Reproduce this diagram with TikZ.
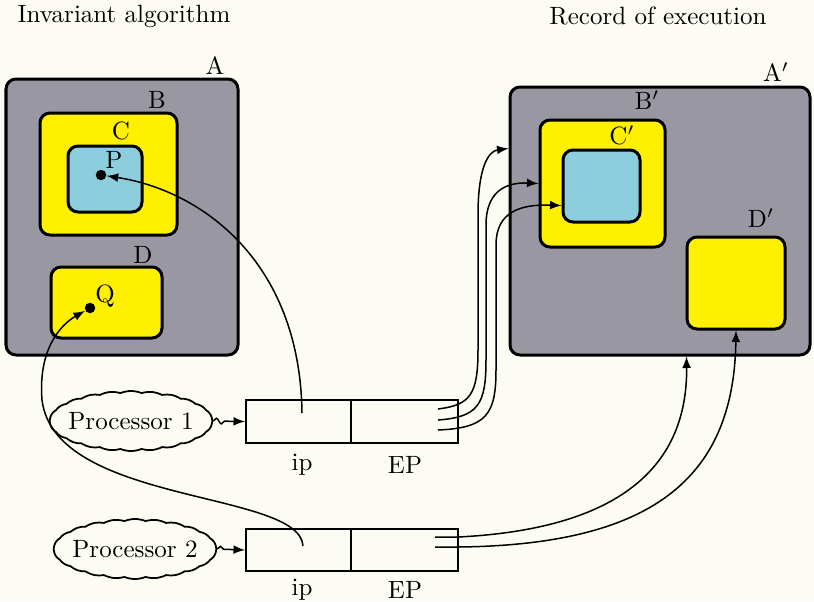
\documentclass[tikz,border=0pt]{standalone}
\usetikzlibrary{fit, calc, shapes.symbols, decorations.pathmorphing}
\definecolor{paper}{RGB}{252,251,244}
\definecolor{regiongray}{RGB}{152,151,162}
\definecolor{regionyellow}{RGB}{255,240,0}
\definecolor{regionblue}{RGB}{140,205,222}

\begin{document}
\begin{tikzpicture}[x=0.4pt, y=-0.4pt, >=latex,
    region/.style={draw, line width=1.2pt, rounded corners=4pt, inner sep=0pt},
    cell/.style={draw, line width=0.8pt, inner sep=0pt},
    dot/.style={circle, fill=black, inner sep=0pt, minimum size=4.2pt},
    proc/.style={cloud, cloud puffs=24, cloud puff arc=45, cloud ignores aspect,
                 draw, line width=0.7pt, inner xsep=-2pt, inner ysep=4.5pt},
    conn/.style={->, line width=0.6pt},
    squig/.style={->, line width=0.6pt, decorate,
                  decoration={snake, amplitude=1.1pt, segment length=4pt, post length=7pt}}]
                % Page:
                \fill[paper] (0,0) rectangle (814,601);
                \useasboundingbox (0,0) rectangle (814,601);

                % Titles:
                \node (titleL) at (124,16) {Invariant algorithm};
                \node (titleR) at (658,16) {Record of execution};

                % Invariant algorithm:
                \node[region, fill=regiongray, fit={(6,79) (238,355)}] (A) {};
                \node[region, fill=regionyellow, fit={(40,113) (177,235)}] (B) {};
                \node[region, fill=regionblue, fit={(68,146) (142,212)}] (C) {};
                \node[region, fill=regionyellow, fit={(51,267) (162,338)}] (D) {};
                \node[dot] (P) at (101,175) {};
                \node[dot] (Q) at (90,308) {};
                \node (labA) at (215,66) {A};
                \node (labB) at (157,100) {B};
                \node (labC) at (121,131) {C};
                \node (labP) at (114,160) {P};
                \node (labD) at (143,255) {D};
                \node (labQ) at (105,296) {Q};

                % Record of execution:
                \node[region, fill=regiongray, fit={(510,87) (810,355)}] (Ap) {};
                \node[region, fill=regionyellow, fit={(540,120) (665,247)}] (Bp) {};
                \node[region, fill=regionblue, fit={(563,150) (640,222)}] (Cp) {};
                \node[region, fill=regionyellow, fit={(687,237) (785,329)}] (Dp) {};
                \node (labAp) at (776,72) {A$'$};
                \node (labBp) at (647,100) {B$'$};
                \node (labCp) at (622,135) {C$'$};
                \node (labDp) at (761,218) {D$'$};

                % Processors and their ip/EP pairs:
                \node[proc] (proc1) at (131,421) {Processor 1};
                \node[proc] (proc2) at (135,549) {Processor 2};
                \node[cell, fit={(246,400) (351,443)}] (ip1) {};
                \node[cell, fit={(351,400) (458,443)}] (ep1) {};
                \node[cell, fit={(246,529) (351,571)}] (ip2) {};
                \node[cell, fit={(351,529) (458,571)}] (ep2) {};
                \node (labip1) at (302,465) {ip};
                \node (labep1) at (405,465) {EP};
                \node (labip2) at (302,590) {ip};
                \node (labep2) at (405,590) {EP};
                \draw[squig] (proc1.east) -- (ip1.west);
                \draw[squig] (proc2.east) -- (ip2.west);

                % ip pointers:
                \coordinate (ip1s) at (302,413);
                \coordinate (ip2s) at (303,546);
                \draw[conn] (ip1s) .. controls (300,260) and (200,190) .. (P);
                \draw[conn] (ip2s) .. controls (300,490) and (55,505) .. (42,400)
                            .. controls (38,350) and (60,325) .. (Q);

                % EP pointers:
                \coordinate (ep1a) at (438,409);
                \coordinate (ep1b) at (438,420);
                \coordinate (ep1c) at (438,430);
                \coordinate (ep2a) at (435,537);
                \coordinate (ep2b) at (435,547);
                \draw[conn] (ep1a) .. controls (470,405) and (478,395) .. (478,350) -- (478,215)
                            .. controls (478,168) and (488,151) .. ($(Ap.north west)+(0,63)$);
                \draw[conn] (ep1b) .. controls (478,417) and (486,405) .. (486,360) -- (486,225)
                            .. controls (486,192) and (505,182) .. (Bp.west);
                \draw[conn] (ep1c) .. controls (486,428) and (496,415) .. (496,370) -- (496,245)
                            .. controls (496,212) and (520,204) .. ($(Cp.south west)+(0,-18)$);
                \draw[conn] (ep2a) -- (458,537) .. controls (600,530) and (688,480) .. ($(Ap.south west)+(178,0)$);
                \draw[conn] (ep2b) -- (458,547) .. controls (650,545) and (734,480) .. (Dp.south);
            \end{tikzpicture}
\end{document}
